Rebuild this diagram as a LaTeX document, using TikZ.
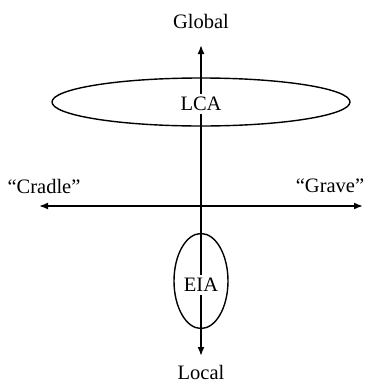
\documentclass[tikz,border=0pt]{standalone}
\usepackage{fontspec}
\setmainfont{Liberation Serif}
\usetikzlibrary{arrows.meta,shapes.geometric}
\begin{document}
\begin{tikzpicture}[x=1pt,y=-1pt,
  axis/.style={line width=1.7pt,{Latex[length=9pt,width=7pt]}-{Latex[length=9pt,width=7pt]}},
  scopebox/.style={ellipse,draw,line width=1.4pt,inner sep=0pt},
  label/.style={font=\fontsize{20.5}{24}\selectfont,inner sep=1pt},
  inlabel/.style={label,fill=white,inner sep=3pt}]
\useasboundingbox (0,0) rectangle (381,386);
% end points of the two axes
\coordinate (top) at (201,45);
\coordinate (bottom) at (201,356);
\coordinate (left) at (39,206);
\coordinate (right) at (363,206);
% axis labels
\node[label] (global) at (201,21) {Global};
\node[label] (local) at (201,372) {Local};
\node[label] (cradle) at (44,186) {“Cradle”};
\node[label] (grave) at (330,186) {“Grave”};
% axes
\draw[axis] (bottom) -- (top);
\draw[axis] (left) -- (right);
% assessment scopes
\node[scopebox,minimum width=298pt,minimum height=48pt] (lcascope) at (201,102) {};
\node[scopebox,minimum width=54pt,minimum height=95pt] (eiascope) at (201,281) {};
\node[inlabel] (lca) at (201,104) {LCA};
\node[inlabel] (eia) at (201,285) {EIA};
\end{tikzpicture}
\end{document}
